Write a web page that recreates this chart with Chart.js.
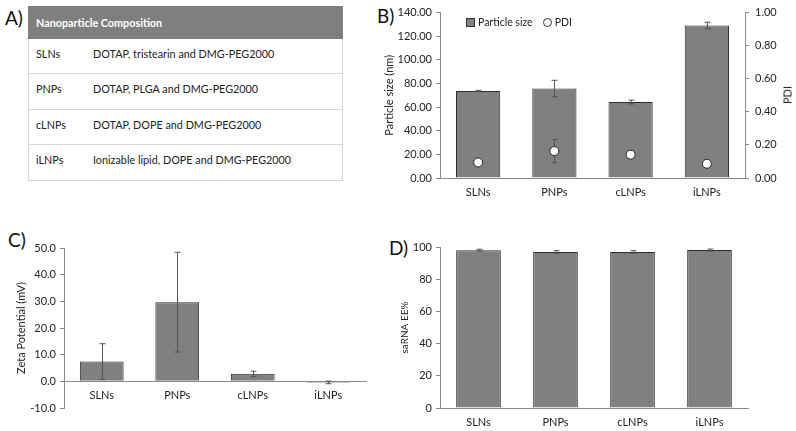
<!DOCTYPE html>
<html>
<head>
<meta charset="utf-8">
<script src="https://cdn.jsdelivr.net/npm/chart.js@4"></script>
<style>
  body { margin: 0; width: 796px; height: 431px; background: #fff; position: relative; overflow: hidden;
         font-family: Lato, "Open Sans", sans-serif; color: #222; }
  .box { position: absolute; }
  .panel { position: absolute; font-size: 19px; color: #111; }
  #tbl { position: absolute; left: 28px; top: 6px; width: 315px; border-collapse: collapse; font-size: 10.8px; }
  #tbl th { background: #7f7f7f; color: #fff; font-weight: bold; text-align: left; height: 31px; padding: 0 0 0 7px;
            border: 1px solid #7f7f7f; font-size: 10.8px; }
  #tbl td { vertical-align: top; padding: 8px 0 0 7px; border-top: 1px solid #d4d4d4; border-bottom: 1px solid #d4d4d4; }
  #tbl tr td:first-child { border-left: 1px solid #d4d4d4; width: 50px; }
  #tbl tr td:last-child { border-right: 1px solid #d4d4d4; }
  #legB { position: absolute; left: 466px; top: 16px; font-size: 10.5px; display: flex; align-items: center; }
  #legB .sq { width: 7px; height: 7px; background: #808080; border: 1px solid #333; margin-right: 3px; }
  #legB .ci { width: 7px; height: 7px; border: 1px solid #333; border-radius: 50%; margin: 0 3px 0 10px; }
  #pdiTitle { position: absolute; left: 787px; top: 95px; font-size: 11px; color: #222;
              transform: translate(-50%, -50%) rotate(-90deg); white-space: nowrap; }
</style>
</head>
<body>
<div class="panel" style="left:5px;top:6px">A)</div>
<div class="panel" style="left:377px;top:4px">B)</div>
<div class="panel" style="left:8px;top:228px">C)</div>
<div class="panel" style="left:389px;top:236px">D)</div>

<table id="tbl"></table>

<div class="box" style="left:370px;top:0;width:426px;height:205px"><canvas id="chartB"></canvas></div>
<div id="legB"></div>
<div id="pdiTitle"></div>
<div class="box" style="left:0;top:215px;width:390px;height:216px"><canvas id="chartC"></canvas></div>
<div class="box" style="left:390px;top:215px;width:406px;height:216px"><canvas id="chartD"></canvas></div>

<script>
const categories = ["SLNs", "PNPs", "cLNPs", "iLNPs"];
const compositions = [
  "DOTAP, tristearin and DMG-PEG2000",
  "DOTAP, PLGA and DMG-PEG2000",
  "DOTAP, DOPE and DMG-PEG2000",
  "Ionizable lipid, DOPE and DMG-PEG2000",
];

// B) particle size + PDI
const sizeMean = [73.6, 75.7, 64.3, 129.0];
const sizeErr = [0.6, 7.0, 1.6, 2.8];
const pdiMean = [0.094, 0.163, 0.141, 0.086];
const pdiErr = [0.01, 0.07, 0.01, 0.01];
const sizeTicks = [0, 140, 20];
const pdiTicks = [0, 1, 0.2];

// C) zeta potential
const zetaMean = [7.4, 29.7, 2.8, -0.4];
const zetaErr = [6.7, 18.7, 1.0, 0.5];
const zetaTicks = [-10, 50, 10];

// D) encapsulation efficiency
const eeMean = [98.0, 96.9, 96.9, 98.1];
const eeErr = [0.6, 0.8, 0.8, 0.6];
const eeTicks = [0, 100, 20];

const FONT = "Lato";
const AXIS = "#8a8a8a";
const TXT = "#222";

Chart.defaults.font.family = FONT;
Chart.defaults.font.size = 11;
Chart.defaults.color = TXT;
Chart.defaults.animation = false;

// table
let tbl = document.getElementById("tbl");
tbl.innerHTML = '<tr><th colspan="2">Nanoparticle Composition</th></tr>' +
  categories.map((c, i) =>
    '<tr style="height:' + (i % 2 ? 36 : 35) + 'px"><td>' + c + "</td><td>" + compositions[i] + "</td></tr>"
  ).join("");

// error bars drawn through the dataset's own y scale
const errorBars = {
  id: "errorBars",
  beforeDatasetDraw(chart, args) {
    if (args.meta.type === "line") drawErrors(chart, args);
  },
  afterDatasetDraw(chart, args) {
    if (args.meta.type === "bar") drawErrors(chart, args);
  },
};

function drawErrors(chart, args) {
  const ds = chart.data.datasets[args.index];
  if (!ds.errors) return;
  const scale = chart.scales[args.meta.yAxisID];
  const ctx = chart.ctx;
  ctx.save();
  ctx.strokeStyle = "#555";
  ctx.lineWidth = 1;
  args.meta.data.forEach((el, i) => {
    const v = ds.data[i], e = ds.errors[i];
    const x = Math.round(el.x) + 0.5;
    const top = scale.getPixelForValue(v + e);
    const bot = scale.getPixelForValue(v - e);
    ctx.beginPath();
    ctx.moveTo(x, top); ctx.lineTo(x, bot);
    ctx.moveTo(x - 3, top); ctx.lineTo(x + 3, top);
    ctx.moveTo(x - 3, bot); ctx.lineTo(x + 3, bot);
    ctx.stroke();
  });
  ctx.restore();
}

function barSet(label, data, errors) {
  return {
    type: "bar",
    label: label,
    data: data,
    errors: errors,
    backgroundColor: "#808080",
    borderColor: "#2e2e2e",
    borderWidth: 1,
    categoryPercentage: 1,
    barPercentage: 0.58,
  };
}

function yAxis(t, decimals, title, titlePad, width, position, titleSize) {
  return {
    position: position || "left",
    min: t[0],
    max: t[1],
    ticks: { stepSize: t[2], padding: 4, color: TXT, callback: (v) => v.toFixed(decimals) },
    grid: { drawOnChartArea: false, drawTicks: true, tickLength: 4, color: AXIS },
    border: { display: true, color: AXIS },
    title: { display: !!title, text: title, color: TXT, font: { size: titleSize || 11 }, padding: { top: titlePad, bottom: 0 } },
    afterFit: (s) => { s.width = width; },
  };
}

function xAxis(height, extra) {
  return Object.assign({
    type: "category",
    offset: true,
    ticks: { padding: 8, color: TXT, font: { size: 11 } },
    grid: { display: false, drawTicks: false },
    border: { display: true, color: AXIS },
    afterFit: (s) => { if (height) s.height = height; },
  }, extra || {});
}

// B
const sizeChart = new Chart(document.getElementById("chartB"), {
  data: {
    labels: categories,
    datasets: [
      Object.assign(barSet("Particle size", sizeMean, sizeErr), { order: 2 }),
      {
        type: "line",
        label: "PDI",
        data: pdiMean,
        errors: pdiErr,
        yAxisID: "y1",
        showLine: false,
        order: 1,
        pointRadius: 4.5,
        pointBackgroundColor: "#fff",
        pointBorderColor: "#222",
        pointBorderWidth: 1,
      },
    ],
  },
  options: {
    responsive: true,
    maintainAspectRatio: false,
    layout: { padding: { top: 11, left: 0, right: 0, bottom: 0 } },
    plugins: { legend: { display: false }, tooltip: { enabled: false } },
    scales: {
      x: xAxis(27),
      y: yAxis(sizeTicks, 2, "Particle size (nm)", 13, 70),
      y1: Object.assign(yAxis(pdiTicks, 2, "", 0, 51, "right"), {
        ticks: { stepSize: 0.2, padding: 6, color: TXT, callback: (v) => v.toFixed(2) },
      }),
    },
  },
  plugins: [errorBars],
});

// legend for B, built from the chart's dataset labels
document.getElementById("legB").innerHTML = sizeChart.data.datasets
  .map((ds, i) => '<span class="' + (i ? "ci" : "sq") + '"></span><span>' + ds.label + "</span>")
  .join("");
// right axis title reads upward, as in the original
document.getElementById("pdiTitle").textContent = sizeChart.data.datasets[1].label;

// C
new Chart(document.getElementById("chartC"), {
  data: { labels: categories, datasets: [barSet("Zeta Potential", zetaMean, zetaErr)] },
  options: {
    responsive: true,
    maintainAspectRatio: false,
    layout: { padding: { top: 33, left: 0, right: 24, bottom: 23 } },
    plugins: { legend: { display: false }, tooltip: { enabled: false } },
    scales: {
      x: xAxis(0, { position: { y: 0 } }),
      y: yAxis(zetaTicks, 1, "Zeta Potential (mV)", 15, 64),
    },
  },
  plugins: [errorBars],
});

// D
new Chart(document.getElementById("chartD"), {
  data: { labels: categories, datasets: [barSet("saRNA EE%", eeMean, eeErr)] },
  options: {
    responsive: true,
    maintainAspectRatio: false,
    layout: { padding: { top: 32, left: 0, right: 48, bottom: 0 } },
    plugins: { legend: { display: false }, tooltip: { enabled: false } },
    scales: {
      x: xAxis(23),
      y: yAxis(eeTicks, 0, "saRNA EE%", 9, 50, "left", 10),
    },
  },
  plugins: [errorBars],
});
</script>
</body>
</html>
